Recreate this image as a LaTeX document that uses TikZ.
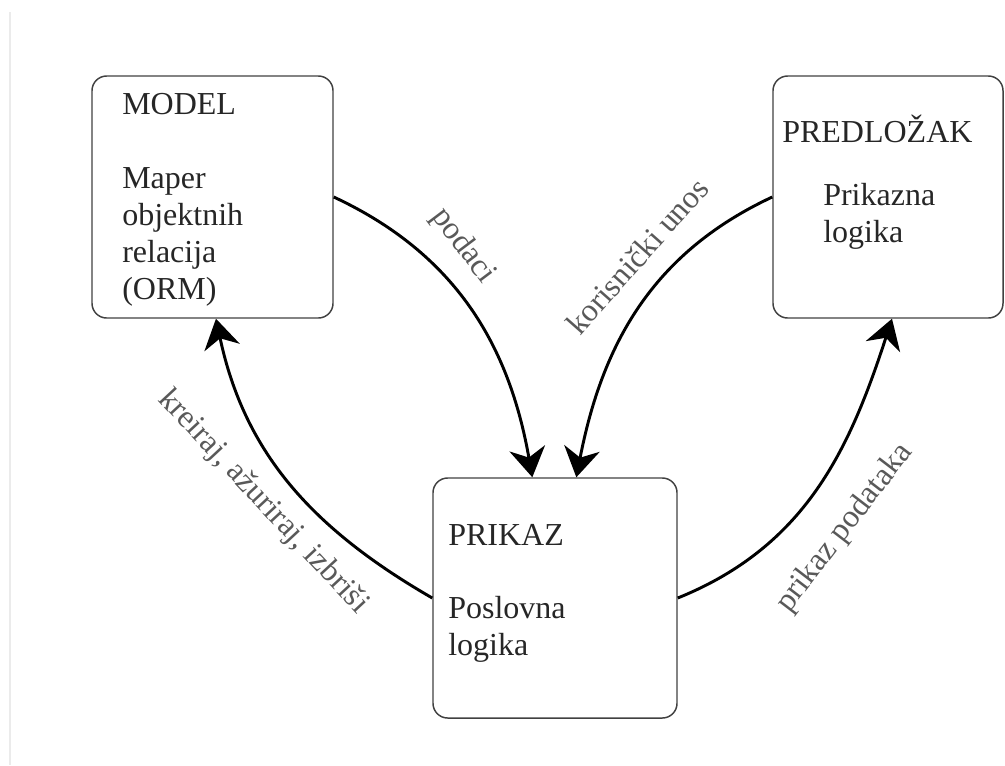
\documentclass[tikz,border=0pt]{standalone}
\usepackage{fontspec}
\setmainfont{Liberation Serif}
\newfontfamily\serifni{Liberation Serif}
\usetikzlibrary{arrows.meta, positioning}

\begin{document}
\begin{tikzpicture}[x=0.75pt,y=0.75pt,
  blok/.style={draw=black!75,line width=1.1pt,rectangle,rounded corners=11pt},
  tekst/.style={font=\serifni\fontsize{24}{27.75}\selectfont,text=black!85,inner sep=0pt},
  oznaka/.style={tekst,text=black!65},
  strelica/.style={draw,line width=2.2pt,-{Stealth[length=22pt,width=27pt,inset=7pt]}}]
\useasboundingbox (0,0) rectangle (1005,-765);
\draw[black!8,line width=1pt] (10,-12) -- (10,-765);
\node[blok,minimum width=180.75pt,minimum height=181.5pt] (model) at (212.5,-197) {};
\node[tekst,anchor=base west] (modelnaslov) at (122,-114) {MODEL};
\node[tekst,anchor=north west,align=left] (modelopis) at (122,-167) {Maper\\objektnih\\relacija\\(ORM)};
\node[blok,minimum width=172.5pt,minimum height=181.5pt] (predlozak) at (888,-197) {};
\node[tekst,anchor=base west] (predlozaknaslov) at (782,-142) {PREDLOŽAK};
\node[tekst,anchor=north west,align=left] (predlozakopis) at (823,-183) {Prikazna\\logika};
\node[blok,minimum width=183pt,minimum height=180pt] (prikaz) at (555,-598) {};
\node[tekst,anchor=base west] (prikaznaslov) at (448,-545) {PRIKAZ};
\node[tekst,anchor=north west,align=left] (prikazopis) at (448,-596) {Poslovna\\logika};
\node[oznaka,rotate=-53] (podaci) at (463,-246) {podaci};
\node[oznaka,rotate=48.5] (unos) at (637,-256) {korisnički unos};
\node[oznaka,rotate=-47] (crud) at (263,-502) {kreiraj, ažuriraj, izbriši};
\node[oznaka,rotate=52.5] (prikazpod) at (845,-528) {prikaz podataka};

\path[strelica] (model.east) to[out=-25,in=100] ([xshift=-17pt]prikaz.north);
\path[strelica] (predlozak.west) to[out=205,in=79] ([xshift=16pt]prikaz.north);
\path[strelica] (prikaz.west) to[out=150,in=-78] ([xshift=2.6pt]model.south);
\path[strelica] (prikaz.east) to[out=22,in=-108] ([xshift=3pt]predlozak.south);
\end{tikzpicture}
\end{document}
